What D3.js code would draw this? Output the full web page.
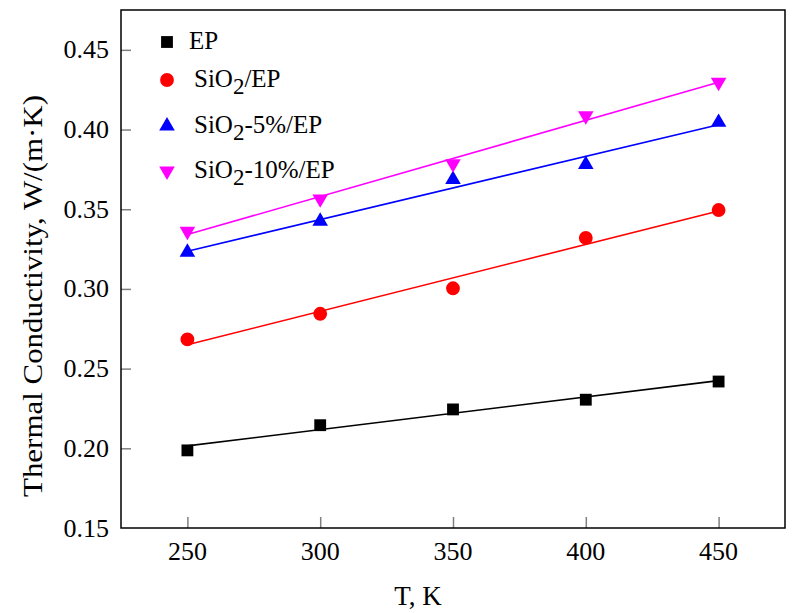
<!DOCTYPE html>
<html>
<head>
<meta charset="utf-8">
<script src="https://cdn.jsdelivr.net/npm/d3@7"></script>
<style>
  html, body { margin: 0; padding: 0; background: #fff; }
  svg { display: block; }
</style>
</head>
<body>
<svg id="chart" width="800" height="613" font-family="'Liberation Serif', 'DejaVu Serif', serif"></svg>
<script>
// ---- data ----
const temperatures = [250, 300, 350, 400, 450];
const epValues      = [0.1987, 0.2145, 0.2244, 0.2305, 0.2419];
const sio2Values    = [0.2683, 0.2844, 0.3004, 0.3320, 0.3495];
const sio2p5Values  = [0.3230, 0.3425, 0.3687, 0.3780, 0.4045];
const sio2p10Values = [0.3362, 0.3565, 0.3785, 0.4086, 0.4296];
const xTicks = [250, 300, 350, 400, 450];
const yTicks = [0.15, 0.20, 0.25, 0.30, 0.35, 0.40, 0.45];
const seriesNames = ["EP", "SiO2/EP", "SiO2-5%/EP", "SiO2-10%/EP"];

const FONT = "'Liberation Serif', 'DejaVu Serif', serif";

const series = [
  { name: seriesNames[0], values: epValues,      color: "#000000", symbol: "square" },
  { name: seriesNames[1], values: sio2Values,    color: "#ff0000", symbol: "circle" },
  { name: seriesNames[2], values: sio2p5Values,  color: "#0000ff", symbol: "triangle" },
  { name: seriesNames[3], values: sio2p10Values, color: "#ff00ff", symbol: "invtriangle" }
];

const svg = d3.select("#chart");
const M = { left: 121, right: 785, top: 10, bottom: 528 };

const x = d3.scaleLinear().domain([225, 475]).range([M.left, M.right]);
const y = d3.scaleLinear().domain([0.15, 0.475]).range([M.bottom, M.top]);

// ticks (inward, gray)
const xAxis = d3.axisTop(x).tickValues(xTicks).tickSize(11).tickFormat("");
svg.append("g").attr("transform", `translate(0,${M.bottom})`).call(xAxis)
  .call(g => g.select(".domain").remove())
  .call(g => g.selectAll("line").attr("stroke", "#808080").attr("stroke-width", 1.5));
const yAxis = d3.axisRight(y).tickValues(yTicks.filter(v => v > 0.15)).tickSize(10).tickFormat("");
svg.append("g").attr("transform", `translate(${M.left},0)`).call(yAxis)
  .call(g => g.select(".domain").remove())
  .call(g => g.selectAll("line").attr("stroke", "#808080").attr("stroke-width", 1.5));

// tick labels
svg.append("g").selectAll("text").data(xTicks).join("text")
  .attr("font-family", FONT)
  .attr("x", d => x(d)).attr("y", 560)
  .attr("text-anchor", "middle").attr("font-size", 26)
  .text(d => d);
svg.append("g").selectAll("text").data(yTicks).join("text")
  .attr("font-family", FONT)
  .attr("x", 109).attr("y", d => y(d) + 8.5)
  .attr("text-anchor", "end").attr("font-size", 26)
  .text(d => d3.format(".2f")(d));

// frame
svg.append("rect")
  .attr("x", M.left).attr("y", M.top)
  .attr("width", M.right - M.left).attr("height", M.bottom - M.top)
  .attr("fill", "none").attr("stroke", "#000").attr("stroke-width", 1.5);

// axis titles
svg.append("text").attr("font-family", FONT).attr("x", 418).attr("y", 605)
  .attr("text-anchor", "middle").attr("font-size", 27).text("T, K");
svg.append("text").attr("font-family", FONT)
  .attr("transform", "translate(42,296) rotate(-90)")
  .attr("text-anchor", "middle").attr("font-size", 28)
  .attr("textLength", 402).attr("lengthAdjust", "spacingAndGlyphs")
  .text("Thermal Conductivity, W/(m·K)");

// symbol helper
function symbolPath(kind) {
  if (kind === "square") return d3.symbol(d3.symbolSquare, 140)();
  if (kind === "circle") return d3.symbol(d3.symbolCircle, 150)();
  return d3.symbol(d3.symbolTriangle, 105)();
}

// fit lines (least squares on the data)
const plot = svg.append("g");
series.forEach(s => {
  const n = temperatures.length;
  const mx = d3.mean(temperatures), my = d3.mean(s.values);
  let num = 0, den = 0;
  temperatures.forEach((t, i) => { num += (t - mx) * (s.values[i] - my); den += (t - mx) ** 2; });
  const slope = num / den, icpt = my - slope * mx;
  const x0 = temperatures[0], x1 = temperatures[n - 1];
  plot.append("line")
    .attr("x1", x(x0)).attr("y1", y(icpt + slope * x0))
    .attr("x2", x(x1)).attr("y2", y(icpt + slope * x1))
    .attr("stroke", s.color).attr("stroke-width", 1.6);
});

// markers
series.forEach(s => {
  plot.append("g").selectAll("path").data(temperatures).join("path")
    .attr("d", symbolPath(s.symbol))
    .attr("transform", (t, i) => `translate(${x(t)},${y(s.values[i])})` + (s.symbol === "invtriangle" ? " rotate(180)" : ""))
    .attr("fill", s.color);
});

// legend
const legendRows = [
  { y: 42, base: 49, text: ["EP"], tx: 189 },
  { y: 80, base: 87, text: ["SiO", "2", "/EP"], tx: 194 },
  { y: 126, base: 133, text: ["SiO", "2", "-5%/EP"], tx: 194 },
  { y: 171, base: 178, text: ["SiO", "2", "-10%/EP"], tx: 194 }
];
const legend = svg.append("g");
series.forEach((s, i) => {
  const r = legendRows[i];
  legend.append("path")
    .attr("d", symbolPath(s.symbol))
    .attr("transform", `translate(167,${r.y})` + (s.symbol === "invtriangle" ? " rotate(180)" : ""))
    .attr("fill", s.color);
  const t = legend.append("text").attr("font-family", FONT)
    .attr("x", r.tx).attr("y", r.base).attr("font-size", 25);
  if (r.text.length === 1) {
    t.text(r.text[0]);
  } else {
    t.append("tspan").text(r.text[0]);
    t.append("tspan").attr("dy", 7).attr("font-size", 23).text(r.text[1]);
    t.append("tspan").attr("dy", -7).text(r.text[2]);
  }
});
</script>
</body>
</html>
